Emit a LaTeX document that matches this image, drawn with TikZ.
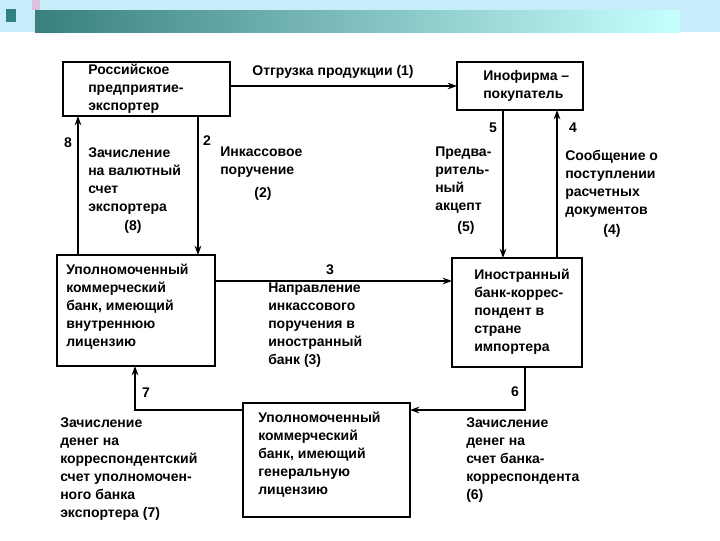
\documentclass[tikz,border=0pt]{standalone}
\usepackage{fontspec}
\setmainfont{Liberation Sans}
\usetikzlibrary{arrows.meta}
\begin{document}
\begin{tikzpicture}[x=0.75pt,y=-0.75pt,
  box/.style={draw,line width=1.6pt},
  arr/.style={line width=0.9pt,-{Stealth[length=7pt,width=5pt]}},
  txt/.style={anchor=north west,align=left,inner sep=0pt,font=\bfseries\fontsize{10.5}{13.5}\selectfont},
  num/.style={inner sep=0pt,font=\bfseries\fontsize{10.5}{12}\selectfont}]
\useasboundingbox (0,0) rectangle (720,540);
\fill[white] (0,0) rectangle (720,540);
\fill[cyan!22] (0,0) rectangle (720,32);
\shade[left color=teal!55!gray,right color=cyan!22] (35,10) rectangle (680,32);
\fill[teal!60!gray] (6,9) rectangle (16,22);
\fill[violet!25] (32,0) rectangle (40,10);
% boxes
\draw[box] (63,62) rectangle (230,116);
\node[txt] (t1) at (88,64) {Российское\\предприятие-\\экспортер};
\draw[box] (457,62) rectangle (583,110);
\node[txt] (t2) at (483,70) {Инофирма –\\покупатель};
\draw[box] (57,255) rectangle (215,366);
\node[txt] (t3) at (66,264) {Уполномоченный\\коммерческий\\банк, имеющий\\внутреннюю\\лицензию};
\draw[box] (452,258) rectangle (582,367);
\node[txt] (t4) at (474,269) {Иностранный\\банк-коррес-\\пондент в\\стране\\импортера};
\draw[box] (243,403) rectangle (410,517);
\node[txt] (t5) at (258,412) {Уполномоченный\\коммерческий\\банк, имеющий\\генеральную\\лицензию};
% coordinates
\coordinate (a1s) at (230,86); \coordinate (a1e) at (457,86);
\coordinate (a8s) at (78,255); \coordinate (a8e) at (78,116);
\coordinate (a2s) at (198,116); \coordinate (a2e) at (198,255);
\coordinate (a5s) at (503,110); \coordinate (a5e) at (503,258);
\coordinate (a4s) at (557,258); \coordinate (a4e) at (557,110);
\coordinate (a3s) at (215,281); \coordinate (a3e) at (452,281);
\coordinate (a6s) at (525,367); \coordinate (a6e) at (410,410);
\coordinate (a7s) at (243,410); \coordinate (a7e) at (135,366);
\draw[arr] (a1s) -- (a1e);
\draw[arr] (a8s) -- (a8e);
\draw[arr] (a2s) -- (a2e);
\draw[arr] (a5s) -- (a5e);
\draw[arr] (a4s) -- (a4e);
\draw[arr] (a3s) -- (a3e);
\draw[arr] (a6s) |- (a6e);
\draw[arr] (a7s) -| (a7e);
% labels
\node[num] (l1) at (333,72) {Отгрузка продукции (1)};
\node[num] (n8) at (68,143) {8};
\node[num] (n2) at (207,141) {2};
\node[num] (n5) at (493,128) {5};
\node[num] (n4) at (573,128) {4};
\node[num] (n3) at (330,270) {3};
\node[num] (n6) at (515,392) {6};
\node[num] (n7) at (146,393) {7};
\node[txt] (l8) at (88,147) {Зачисление\\на валютный\\счет\\экспортера};
\node[num] (p8) at (133,227) {(8)};
\node[txt] (l2) at (220,147) {Инкассовое\\поручение};
\node[num] (p2) at (263,194) {(2)};
\node[txt] (l5) at (435,147) {Предва-\\ритель-\\ный\\акцепт};
\node[num] (p5) at (466,228) {(5)};
\node[txt] (l4) at (565,150) {Сообщение о\\поступлении\\расчетных\\документов};
\node[num] (p4) at (612,231) {(4)};
\node[txt] (l3) at (268,283) {Направление\\инкассового\\поручения в\\иностранный\\банк (3)};
\node[txt] (l7) at (60,417) {Зачисление\\денег на\\корреспондентский\\счет уполномочен-\\ного банка\\экспортера (7)};
\node[txt] (l6) at (466,417) {Зачисление\\денег на\\счет банка-\\корреспондента\\(6)};
\end{tikzpicture}
\end{document}
